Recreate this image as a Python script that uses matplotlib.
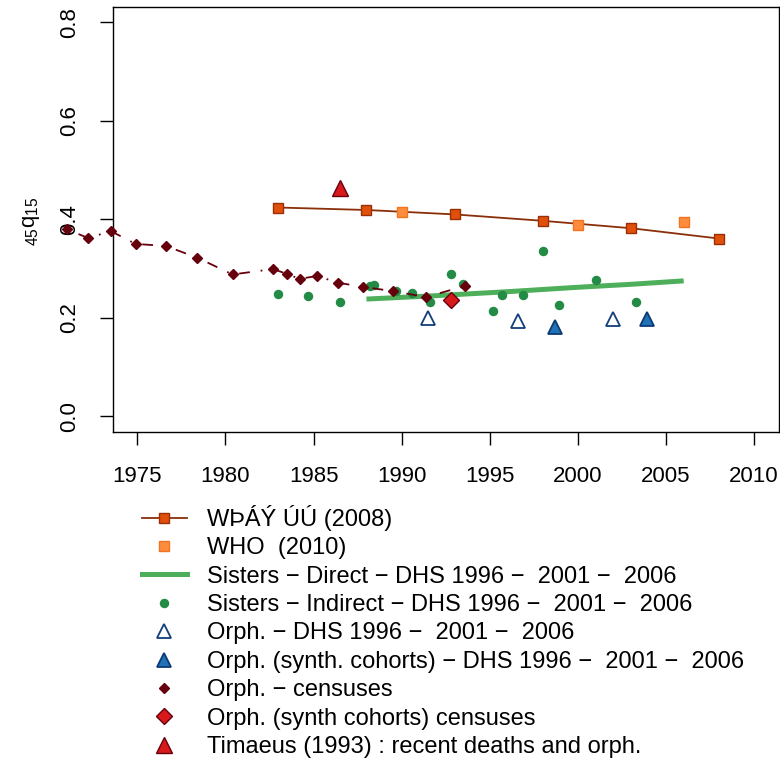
import matplotlib
matplotlib.use('Agg')
import matplotlib.pyplot as plt
from matplotlib.lines import Line2D

plt.rcParams['font.family'] = ['Liberation Sans', 'DejaVu Sans']
plt.rcParams['mathtext.fontset'] = 'custom'
plt.rcParams['mathtext.rm'] = 'Liberation Sans'
plt.rcParams['mathtext.it'] = 'Liberation Sans'

# UN estimates (2008)
un_years = [1983, 1988, 1993, 1998, 2003, 2008]
un_q = [0.424, 0.419, 0.410, 0.397, 0.382, 0.361]

# WHO (2010)
who_years = [1990, 2000, 2006]
who_q = [0.415, 0.389, 0.395]

# Sisters - direct
sis_dir_years = [1988, 1992, 1996, 2000, 2003, 2006]
sis_dir_q = [0.238, 0.245, 0.253, 0.262, 0.268, 0.275]

# Sisters - indirect
sis_ind_years = [1983.0, 1984.7, 1986.5, 1988.2, 1988.4, 1989.7, 1990.6, 1991.6,
                 1992.8, 1993.5, 1995.2, 1995.7, 1996.9, 1998.0, 1998.9, 2001.0, 2003.3]
sis_ind_q = [0.248, 0.245, 0.233, 0.264, 0.267, 0.254, 0.250, 0.232,
             0.289, 0.269, 0.214, 0.246, 0.246, 0.335, 0.226, 0.277, 0.233]

# Orphanhood - DHS
orph_years = [1991.5, 1996.6, 2002.0]
orph_q = [0.199, 0.194, 0.197]

# Orphanhood synthetic cohorts - DHS
orph_syn_years = [1998.7, 2003.9]
orph_syn_q = [0.182, 0.197]

# Orphanhood - censuses
cens_years = [1971.0, 1972.2, 1973.5, 1974.9, 1976.6, 1978.4, 1980.4, 1982.7,
              1983.5, 1984.2, 1985.2, 1986.4, 1987.8, 1989.5, 1991.4, 1993.6]
cens_q = [0.380, 0.362, 0.376, 0.350, 0.346, 0.322, 0.288, 0.299,
          0.289, 0.279, 0.285, 0.271, 0.263, 0.254, 0.242, 0.265]

# Orphanhood synthetic cohorts - censuses
cens_syn_years = [1992.8]
cens_syn_q = [0.236]

# Timaeus (1993)
tim_years = [1986.5]
tim_q = [0.463]

labels = ['WÞÁÝ ÚÚ (2008)',
          'WHO  (2010)',
          'Sisters \u2212 Direct \u2212 DHS 1996 \u2212  2001 \u2212  2006',
          'Sisters \u2212 Indirect \u2212 DHS 1996 \u2212  2001 \u2212  2006',
          'Orph. \u2212 DHS 1996 \u2212  2001 \u2212  2006',
          'Orph. (synth. cohorts) \u2212 DHS 1996 \u2212  2001 \u2212  2006',
          'Orph. \u2212 censuses',
          'Orph. (synth cohorts) censuses',
          'Timaeus (1993) : recent deaths and orph.']

fs = 16
leg_fs = 17

fig = plt.figure(figsize=(7.8, 7.6), dpi=100)
ax = fig.add_axes([0.1445, 0.4316, 0.854, 0.5596])

ax.plot(sis_dir_years, sis_dir_q, color='#4DAF5A', lw=3.6, solid_capstyle='butt', zorder=2)
ax.plot(un_years, un_q, color='#8B2F0A', lw=1.3, marker='s', ms=7.5,
        mfc='#E0500B', mec='#9A3008', mew=1.0, zorder=4)
ax.plot(who_years, who_q, ls='none', marker='s', ms=7.5,
        mfc='#FD8D3C', mec='#F27420', mew=1.0, zorder=4)
ax.plot(sis_ind_years, sis_ind_q, ls='none', marker='o', ms=5.8,
        mfc='#238B45', mec='#238B45', zorder=3)
ax.plot(orph_years, orph_q, ls='none', marker='^', ms=10,
        mfc='white', mec='#123E7A', mew=1.3, zorder=4)
ax.plot(orph_syn_years, orph_syn_q, ls='none', marker='^', ms=10,
        mfc='#2171B5', mec='#0B3A75', mew=1.3, zorder=4)
ax.plot(cens_years, cens_q, color='#67000D', lw=1.3, ls=(0, (1, 6, 6, 6)),
        marker='D', ms=5.5, mfc='#67000D', mec='#67000D', clip_on=False, zorder=5)
ax.plot(cens_syn_years, cens_syn_q, ls='none', marker='D', ms=8.5,
        mfc='#D7191C', mec='#67000D', mew=1.0, zorder=5)
ax.plot(tim_years, tim_q, ls='none', marker='^', ms=11,
        mfc='#D7191C', mec='#67000D', mew=1.0, zorder=5)

ax.set_xlim(1975 - 1.4, 2010 + 1.4)
ax.set_ylim(-0.032, 0.832)
ax.set_xticks([1975, 1980, 1985, 1990, 1995, 2000, 2005, 2010])
ax.set_yticks([0.0, 0.2, 0.4, 0.6, 0.8])
ax.set_yticklabels(['0.0', '0.2', '0.4', '0.6', '0.8'])
ax.tick_params(axis='both', direction='out', length=9.5, width=1.0, labelsize=fs)
ax.tick_params(axis='x', pad=15)
ax.tick_params(axis='y', pad=14)
for t in ax.get_yticklabels():
    t.set_rotation(90)
    t.set_va('center')
for s in ax.spines.values():
    s.set_linewidth(1.0)

fig.text(32 / 780, 1 - 221 / 760, r'${}_{45}q_{15}$', rotation=90,
         ha='center', va='center', fontsize=fs)

handles = [
    Line2D([], [], color='#8B2F0A', lw=1.3, marker='s', ms=7.5, mfc='#E0500B', mec='#9A3008'),
    Line2D([], [], ls='none', marker='s', ms=7.5, mfc='#FD8D3C', mec='#F27420'),
    Line2D([], [], color='#4DAF5A', lw=3.6),
    Line2D([], [], ls='none', marker='o', ms=5.8, mfc='#238B45', mec='#238B45'),
    Line2D([], [], ls='none', marker='^', ms=10, mfc='white', mec='#123E7A', mew=1.3),
    Line2D([], [], ls='none', marker='^', ms=10, mfc='#2171B5', mec='#0B3A75', mew=1.3),
    Line2D([], [], ls='none', marker='D', ms=5.5, mfc='#67000D', mec='#67000D'),
    Line2D([], [], ls='none', marker='D', ms=8.5, mfc='#D7191C', mec='#67000D'),
    Line2D([], [], ls='none', marker='^', ms=11, mfc='#D7191C', mec='#67000D'),
]
ax.legend(handles, labels, loc='upper left', bbox_to_anchor=(142 / 780, 1 - 505 / 760),
          bbox_transform=fig.transFigure, frameon=False, fontsize=leg_fs, borderpad=0,
          borderaxespad=0, handlelength=1.9, handletextpad=0.85, labelspacing=0.27)

fig.savefig('out.png', dpi=100)
